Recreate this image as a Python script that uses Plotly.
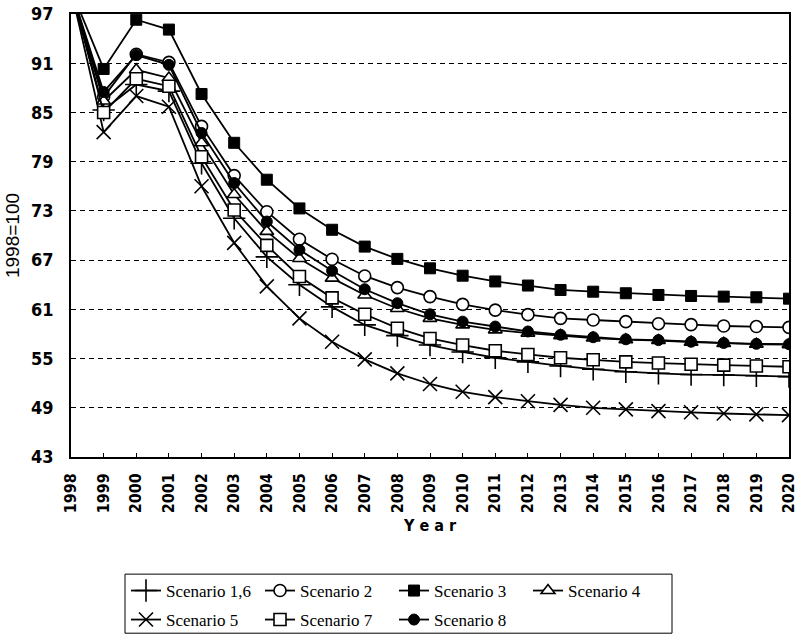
import plotly.graph_objects as go

years = list(range(1998, 2021))

s1_6 = [100, 85.3, 88.4, 87.6, 78.8, 72.1, 67.4, 64.0, 61.3, 59.1, 57.8, 56.65, 55.8, 55.1, 54.6, 54.1, 53.7, 53.4, 53.2, 53.05, 53.0, 52.9, 52.8]
s2 = [100, 86.9, 92.1, 91.1, 83.3, 77.3, 72.9, 69.55, 67.1, 65.07, 63.65, 62.55, 61.6, 60.9, 60.35, 59.9, 59.7, 59.5, 59.25, 59.13, 58.97, 58.9, 58.8]
s3 = [100, 90.3, 96.3, 95.1, 87.25, 81.3, 76.8, 73.3, 70.7, 68.65, 67.15, 66.0, 65.1, 64.4, 63.9, 63.36, 63.15, 62.96, 62.75, 62.63, 62.55, 62.47, 62.3]
s4 = [100, 86.4, 90.2, 89.2, 81.3, 75.0, 70.5, 67.2, 64.8, 62.75, 61.1, 59.9, 59.1, 58.5, 58.1, 57.8, 57.5, 57.3, 57.2, 57.0, 56.85, 56.75, 56.7]
s5 = [100, 82.6, 87.0, 85.7, 76.0, 69.1, 63.8, 59.9, 57.05, 54.9, 53.2, 51.9, 50.95, 50.3, 49.8, 49.35, 49.0, 48.8, 48.6, 48.45, 48.3, 48.2, 48.1]
s7 = [100, 85.0, 89.1, 88.2, 79.6, 73.1, 68.8, 65.0, 62.4, 60.4, 58.7, 57.45, 56.65, 55.95, 55.5, 55.1, 54.85, 54.6, 54.45, 54.3, 54.2, 54.1, 54.0]
s8 = [100, 87.5, 92.0, 90.8, 82.5, 76.4, 71.7, 68.25, 65.7, 63.45, 61.75, 60.4, 59.5, 58.9, 58.3, 57.9, 57.6, 57.35, 57.25, 57.05, 56.9, 56.8, 56.75]

y_ticks = [43, 49, 55, 61, 67, 73, 79, 85, 91, 97]

# (name, values, marker, legend row)
series = [
    ("Scenario 1,6", s1_6, dict(symbol="cross-thin-open", size=16, color="black", line=dict(color="black", width=1.6)), "legend"),
    ("Scenario 2", s2, dict(symbol="circle", size=12, color="white", line=dict(color="black", width=1.6)), "legend"),
    ("Scenario 3", s3, dict(symbol="square", size=11, color="black", line=dict(color="black", width=1)), "legend"),
    ("Scenario 4", s4, dict(symbol="triangle-up", size=12, color="white", line=dict(color="black", width=1.6)), "legend"),
    ("Scenario 5", s5, dict(symbol="x-thin-open", size=14, color="black", line=dict(color="black", width=1.6)), "legend2"),
    ("Scenario 7", s7, dict(symbol="square", size=12, color="white", line=dict(color="black", width=1.6)), "legend2"),
    ("Scenario 8", s8, dict(symbol="circle", size=11, color="black", line=dict(color="black", width=1)), "legend2"),
]

fig = go.Figure()
for name, vals, mk, lg in series:
    fig.add_trace(go.Scatter(x=years, y=vals, name=name, mode="lines+markers", legend=lg,
                             line=dict(color="black", width=1.8), marker=mk))

narrow = "DejaVu Sans Condensed, Liberation Sans Narrow, sans-serif"
legend_font = dict(family="Liberation Serif, Times New Roman, serif", size=17, color="black")
W, H = 798, 634

common_legend = dict(orientation="h", xref="container", yref="container",
                     x=126 / W, xanchor="left", yanchor="top",
                     borderwidth=0, bgcolor="rgba(0,0,0,0)",
                     font=legend_font, entrywidth=89, itemwidth=30)

fig.update_layout(
    width=W, height=H,
    margin=dict(l=71, r=9, t=14, b=177, autoexpand=False),
    paper_bgcolor="white", plot_bgcolor="white",
    showlegend=True,
    legend=dict(common_legend, y=1 - 573 / H),
    legend2=dict(common_legend, y=1 - 602 / H),
    xaxis=dict(
        range=[1998, 2020], tickmode="array", tickvals=years, ticktext=[str(y) for y in years],
        tickangle=-90, ticks="inside", ticklen=4, tickcolor="black",
        showline=True, mirror=True, linecolor="black", linewidth=1.5,
        showgrid=False, zeroline=False, ticklabeloverflow="allow", ticklabelstandoff=8,
        tickfont=dict(family=narrow, size=16, color="black", weight="bold"),
        title=dict(text="Y e a r", font=dict(family=narrow, size=16, color="black", weight="bold"), standoff=8),
    ),
    yaxis=dict(
        range=[43, 97], tickmode="array", tickvals=y_ticks,
        ticks="", showline=True, mirror=True, linecolor="black", linewidth=1.5,
        showgrid=True, gridcolor="black", gridwidth=1, griddash="5px,4px",
        zeroline=False, ticklabelstandoff=12, ticklabeloverflow="allow",
        tickfont=dict(family=narrow, size=18, color="black", weight="bold"),
        title=dict(text="1998=100", font=dict(family="Liberation Sans, Arial, sans-serif", size=19, color="black"), standoff=6),
    ),
    shapes=[dict(type="rect", xref="paper", yref="paper",
                 x0=(125 - 71) / 718, x1=(672 - 71) / 718,
                 y0=(457 - 633) / 442.5, y1=(457 - 574) / 442.5,
                 line=dict(color="black", width=1), fillcolor="rgba(0,0,0,0)", layer="above")],
)

fig.write_html("out.html")
